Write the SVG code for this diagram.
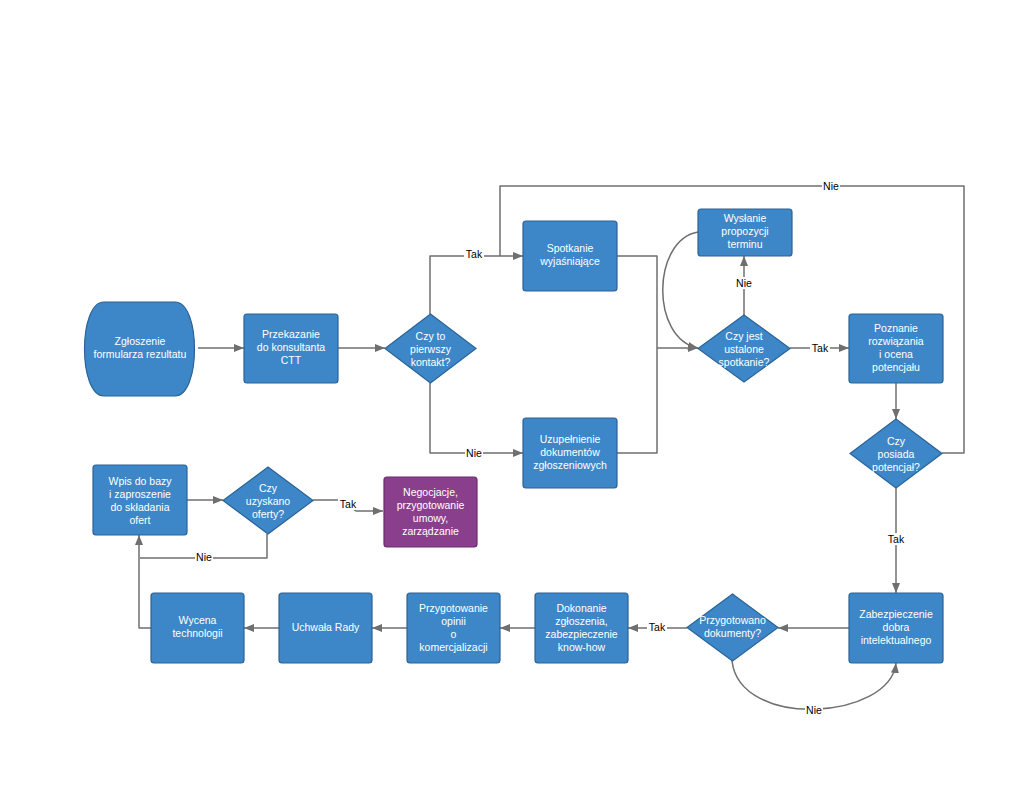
<svg xmlns="http://www.w3.org/2000/svg" width="1024" height="791" viewBox="0 0 1024 791">
<defs>
<marker id="ah" viewBox="0 0 10 10" refX="10" refY="5" markerWidth="10" markerHeight="10" markerUnits="userSpaceOnUse" orient="auto">
<path d="M0,1 L10,5 L0,9 Z" fill="#6f6f6f"/>
</marker>
</defs>
<style>
.n{fill:#3d87c9;stroke:#2b6396;stroke-width:1.2}
.p{fill:#8a3f8c;stroke:#6a2c6c;stroke-width:1.2}
.t{font-family:"Liberation Sans",Arial,sans-serif;font-size:10.5px;fill:#ffffff;text-anchor:middle}
.c{fill:none;stroke:#6f6f6f;stroke-width:1.5;stroke-linejoin:round}
.a{marker-end:url(#ah)}
.l{font-family:"Liberation Sans",Arial,sans-serif;font-size:10.5px;fill:#000000;text-anchor:middle}
.lb{fill:#ffffff}
</style>
<rect width="1024" height="791" fill="#ffffff"/>
<g id="connectors">
<path class="c a" d="M198,348 H244"/>
<path class="c a" d="M338,348 H385"/>
<path class="c a" d="M430,314 V256 H523"/>
<path class="c a" d="M430,383 V453 H523"/>
<path class="c" d="M942,453 H964 V186 H500 V256"/>
<path class="c" d="M617,256 H657 V453 H617"/>
<path class="c a" d="M657,348 H698"/>
<path class="c a" d="M698,232 C652,240 650,338 698,348"/>
<path class="c a" d="M744,315 V256"/>
<path class="c a" d="M790,348 H849"/>
<path class="c a" d="M896,383 V419"/>
<path class="c a" d="M896,488 V593"/>
<path class="c a" d="M849,628 H778"/>
<path class="c a" d="M687,628 H628"/>
<path class="c a" d="M732,661 C740,730 890,720 896,663"/>
<path class="c a" d="M535,628 H500"/>
<path class="c a" d="M407,628 H372"/>
<path class="c a" d="M279,628 H244"/>
<path class="c a" d="M151,628 H139 V535"/>
<path class="c a" d="M187,500 H223"/>
<path class="c" d="M267,534 V558 H140"/>
<path class="c a" d="M313,500 H340 L356,511 H383"/>
<g id="labels">
<rect class="lb" x="464" y="248" width="20" height="12"/><text class="l" x="474" y="258">Tak</text>
<rect class="lb" x="465" y="447" width="18" height="12"/><text class="l" x="474" y="457">Nie</text>
<rect class="lb" x="822" y="180" width="18" height="12"/><text class="l" x="831" y="190">Nie</text>
<rect class="lb" x="735" y="277" width="18" height="12"/><text class="l" x="744" y="287">Nie</text>
<rect class="lb" x="810" y="342" width="20" height="12"/><text class="l" x="820" y="352">Tak</text>
<rect class="lb" x="886" y="533" width="20" height="12"/><text class="l" x="896" y="543">Tak</text>
<rect class="lb" x="647" y="621" width="20" height="12"/><text class="l" x="657" y="631">Tak</text>
<rect class="lb" x="805" y="704" width="18" height="12"/><text class="l" x="814" y="714">Nie</text>
<rect class="lb" x="195" y="551" width="18" height="12"/><text class="l" x="204" y="561">Nie</text>
<rect class="lb" x="338" y="498" width="20" height="12"/><text class="l" x="348" y="508">Tak</text>
</g>
</g>
<g id="n1">
<path class="n" d="M104,302 H175 C201,302 201,396 175,396 H104 C78,396 78,302 104,302 Z"/>
<text class="t" x="140" y="345">Zgłoszenie</text>
<text class="t" x="140" y="358">formularza rezultatu</text>
</g>
<g id="n2">
<rect class="n" x="244" y="314" width="94" height="69" rx="3"/>
<text class="t" x="291" y="338">Przekazanie</text>
<text class="t" x="291" y="351">do konsultanta</text>
<text class="t" x="291" y="364">CTT</text>
</g>
<g id="d1">
<polygon class="n" points="430.5,314 476,348.5 430.5,383 385,348.5"/>
<text class="t" x="430.5" y="340">Czy to</text>
<text class="t" x="430.5" y="353">pierwszy</text>
<text class="t" x="430.5" y="366">kontakt?</text>
</g>
<g id="n3">
<rect class="n" x="523" y="221" width="94" height="70" rx="3"/>
<text class="t" x="570" y="252">Spotkanie</text>
<text class="t" x="570" y="265">wyjaśniające</text>
</g>
<g id="n4">
<rect class="n" x="523" y="418" width="94" height="70" rx="3"/>
<text class="t" x="570" y="443">Uzupełnienie</text>
<text class="t" x="570" y="456">dokumentów</text>
<text class="t" x="570" y="469">zgłoszeniowych</text>
</g>
<g id="n5">
<rect class="n" x="698" y="209" width="94" height="47" rx="3"/>
<text class="t" x="745" y="222">Wysłanie</text>
<text class="t" x="745" y="235">propozycji</text>
<text class="t" x="745" y="248">terminu</text>
</g>
<g id="d2">
<polygon class="n" points="744,315 790,348.5 744,382 698,348.5"/>
<text class="t" x="744" y="340">Czy jest</text>
<text class="t" x="744" y="353">ustalone</text>
<text class="t" x="744" y="366">spotkanie?</text>
</g>
<g id="n6">
<rect class="n" x="849" y="314" width="94" height="69" rx="3"/>
<text class="t" x="896" y="332">Poznanie</text>
<text class="t" x="896" y="345">rozwiązania</text>
<text class="t" x="896" y="358">i ocena</text>
<text class="t" x="896" y="371">potencjału</text>
</g>
<g id="d3">
<polygon class="n" points="896,419 942,453.5 896,488 850,453.5"/>
<text class="t" x="896" y="445">Czy</text>
<text class="t" x="896" y="458">posiada</text>
<text class="t" x="896" y="471">potencjał?</text>
</g>
<g id="n7">
<rect class="n" x="849" y="593" width="94" height="70" rx="3"/>
<text class="t" x="896" y="618">Zabezpieczenie</text>
<text class="t" x="896" y="631">dobra</text>
<text class="t" x="896" y="644">intelektualnego</text>
</g>
<g id="d4">
<polygon class="n" points="732.5,594 778,627.5 732.5,661 687,627.5"/>
<text class="t" x="732.5" y="624">Przygotowano</text>
<text class="t" x="732.5" y="637">dokumenty?</text>
</g>
<g id="n8">
<rect class="n" x="535" y="593" width="93" height="70" rx="3"/>
<text class="t" x="581.5" y="612">Dokonanie</text>
<text class="t" x="581.5" y="625">zgłoszenia,</text>
<text class="t" x="581.5" y="638">zabezpieczenie</text>
<text class="t" x="581.5" y="651">know-how</text>
</g>
<g id="n9">
<rect class="n" x="407" y="593" width="93" height="70" rx="3"/>
<text class="t" x="453.5" y="612">Przygotowanie</text>
<text class="t" x="453.5" y="625">opinii</text>
<text class="t" x="453.5" y="638">o</text>
<text class="t" x="453.5" y="651">komercjalizacji</text>
</g>
<g id="n10">
<rect class="n" x="279" y="593" width="93" height="70" rx="3"/>
<text class="t" x="325.5" y="631">Uchwała Rady</text>
</g>
<g id="n11">
<rect class="n" x="151" y="593" width="93" height="70" rx="3"/>
<text class="t" x="197.5" y="624">Wycena</text>
<text class="t" x="197.5" y="637">technologii</text>
</g>
<g id="n12">
<rect class="n" x="93" y="465" width="94" height="70" rx="3"/>
<text class="t" x="140" y="485">Wpis do bazy</text>
<text class="t" x="140" y="498">i zaproszenie</text>
<text class="t" x="140" y="511">do składania</text>
<text class="t" x="140" y="524">ofert</text>
</g>
<g id="d5">
<polygon class="n" points="268,467 313,500.5 268,534 223,500.5"/>
<text class="t" x="268" y="492">Czy</text>
<text class="t" x="268" y="505">uzyskano</text>
<text class="t" x="268" y="518">oferty?</text>
</g>
<g id="n13">
<rect class="p" x="384" y="477" width="93" height="70" rx="3"/>
<text class="t" x="430.5" y="496">Negocjacje,</text>
<text class="t" x="430.5" y="509">przygotowanie</text>
<text class="t" x="430.5" y="522">umowy,</text>
<text class="t" x="430.5" y="535">zarządzanie</text>
</g>
</svg>
